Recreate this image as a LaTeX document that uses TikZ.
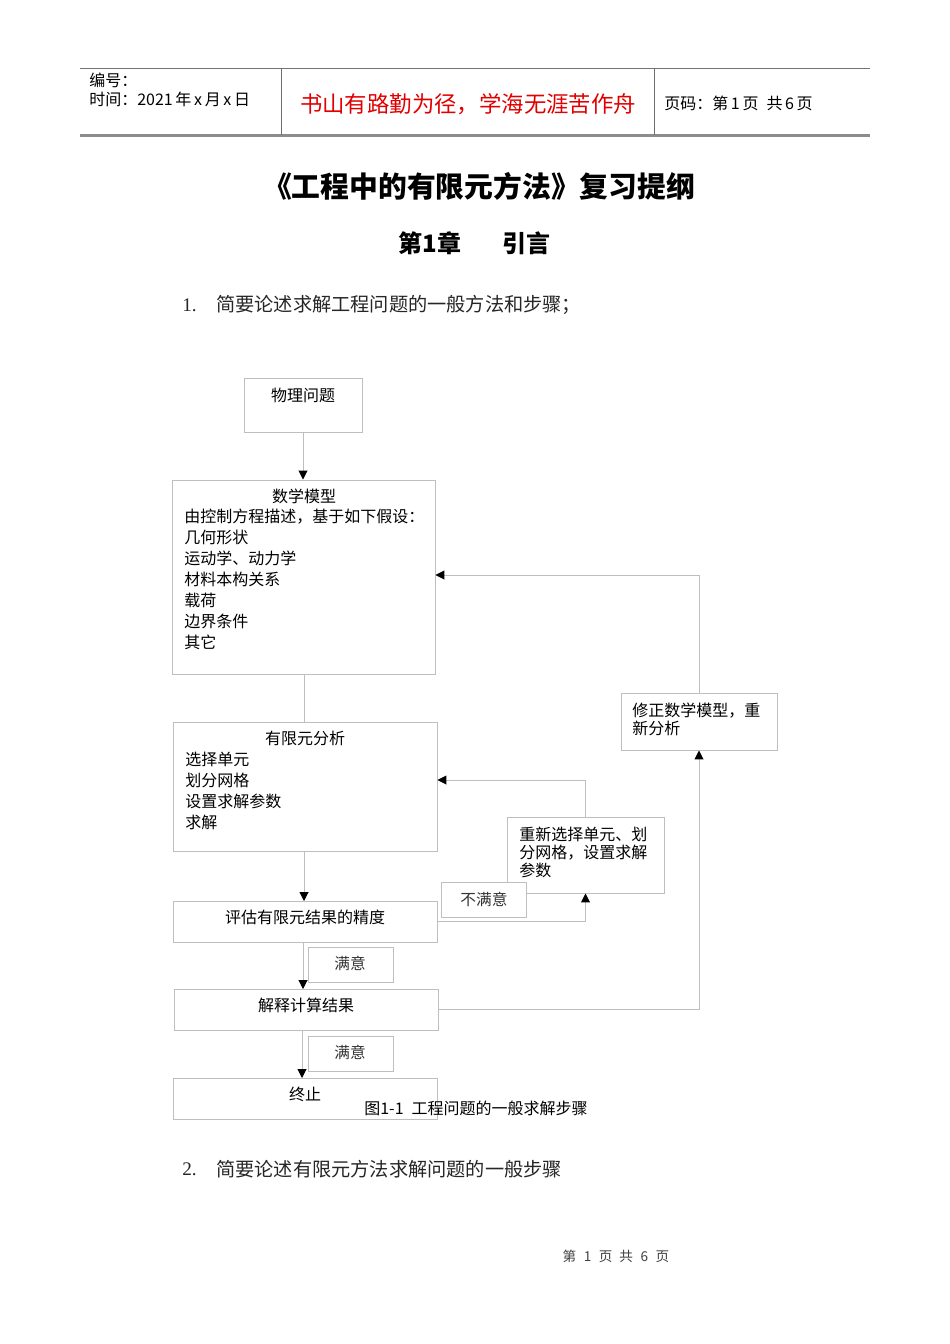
\documentclass[tikz,border=0pt]{standalone}
\usepackage{fontspec}
\setmainfont{Noto Sans CJK SC}
\newfontfamily\latserif{Liberation Serif}
\usetikzlibrary{arrows.meta,fit}
\definecolor{hdrred}{RGB}{225,0,0}
\definecolor{lgray}{RGB}{190,190,190}
\definecolor{hgray}{RGB}{110,110,110}
\newcommand\fsz[2]{\fontsize{#1}{#2}\selectfont}
\tikzset{
  box/.style={draw=lgray, line width=0.6pt, inner sep=0pt},
  conn/.style={draw=lgray, line width=0.6pt, -{Triangle[length=5.6pt,width=5.6pt,color=black]}},
  plainline/.style={draw=lgray, line width=0.6pt},
  ft/.style={font=\fsz{10}{13.1}, inner sep=0pt},
  fts/.style={font=\fsz{10}{11.25}, inner sep=0pt, align=left},
  lab/.style={font=\fsz{9.8}{12}, inner sep=0pt, text=black!80},
  hdr/.style={font=\fsz{10}{11}, inner sep=0pt},
  item/.style={font=\fsz{12}{15}, inner sep=0pt, text=black!85},
}
\begin{document}
\begin{tikzpicture}[x=0.625pt,y=-0.625pt]
\fill[white] (0,0) rectangle (950,1344);
\useasboundingbox (0,0) rectangle (950,1344);

% header
\draw[black!55, line width=0.6pt] (80,68) -- (870,68);
\draw[black!45, line width=1.3pt] (80,135.5) -- (870,135.5);
\draw[hgray, line width=0.6pt] (281,68) -- (281,135);
\draw[hgray, line width=0.6pt] (654,68) -- (654,135);
\node[hdr, anchor=west] (hno) at (89,80) {编号：};
\node[hdr, anchor=west] (htime) at (89,99) {时间：2021\,年\,x\,月\,x\,日};
\node[font=\fsz{14}{16}, inner sep=0pt, text=hdrred] (motto) at (468,104) {书山有路勤为径，学海无涯苦作舟};
\node[hdr, anchor=west] (hpage) at (664,103) {页码：第\,1\,页\enspace 共\,6\,页};

% titles
\node[font=\fsz{18}{21}\bfseries, inner sep=0pt] (title) at (479,186) {《工程中的有限元方法》复习提纲};
\node[font=\fsz{15}{18}\bfseries, inner sep=0pt] (chap) at (474.5,243) {第1章\hspace{26pt}引言};

\node[item, anchor=west] (n1) at (182,305) {\latserif 1.};
\node[item, anchor=west] (q1) at (216,305) {简要论述求解工程问题的一般方法和步骤；};
\node[item, anchor=west] (n2) at (182,1169) {\latserif 2.};
\node[item, anchor=west] (q2) at (216,1169) {简要论述有限元方法求解问题的一般步骤};

% boxes
\node[box, fit={(244,378) (362,432)}] (phys) {};
\node[box, fit={(172,480) (435,674)}] (math) {};
\node[box, fit={(173,722) (437,851)}] (fea) {};
\node[box, fit={(173,901) (437,942)}] (eval) {};
\node[box, fit={(174,989) (438,1030)}] (interp) {};
\node[box, fit={(173,1078) (437,1119)}] (stop) {};
\node[box, fit={(621,693) (777,750)}] (modify) {};
\node[box, fit={(507,817) (664,893)}] (regen) {};
\node[box, fill=white, fit={(441,882) (526,917)}] (unsat) {};
\node[box, fit={(308,947) (393,982)}] (sat1) {};
\node[box, fit={(308,1036) (393,1071)}] (sat2) {};

% box texts
\node[ft] (tphys) at (303,395) {物理问题};
\node[ft] (tmath) at (304,496) {数学模型};
\node[ft, anchor=north west, align=left] (lmath) at (184,508.5) {由控制方程描述，基于如下假设：\\几何形状\\运动学、动力学\\材料本构关系\\载荷\\边界条件\\其它};
\node[ft] (tfea) at (305,738) {有限元分析};
\node[ft, anchor=north west, align=left] (lfea) at (185,751.5) {选择单元\\划分网格\\设置求解参数\\求解};
\node[ft] (teval) at (305,917) {评估有限元结果的精度};
\node[ft] (tinterp) at (306,1005) {解释计算结果};
\node[ft] (tstop) at (305,1094) {终止};
\node[fts, anchor=north west] (tmod) at (632,702.5) {修正数学模型，重\\新分析};
\node[fts, anchor=north west] (treg) at (519,826.5) {重新选择单元、划\\分网格，设置求解\\参数};
\node[lab] (tunsat) at (484,899) {不满意};
\node[lab] (tsat1) at (350,963) {满意};
\node[lab] (tsat2) at (350,1052) {满意};
\node[ft, anchor=west] (cap) at (364,1108) {图1-1\enspace 工程问题的一般求解步骤};

% connectors
\draw[conn] (phys.south) -- (phys.south |- math.north);
\draw[plainline] (304,674) -- (304,722);
\draw[conn] (304,851) -- (304,901);
\draw[conn] (303,942) -- (303,989);
\draw[conn] (302,1030) -- (302,1078);
\draw[conn] (eval.east) -| (regen.south);
\draw[conn] (regen.north) |- (fea.east |- 0,780);
\draw[conn] (interp.east) -| (modify.south);
\draw[conn] (modify.north) |- (math.east |- 0,575);

% footer
\node[font=\fsz{8.5}{10}, inner sep=0pt, text=black!75] (foot) at (616,1256) {第\,\, 1\,\, 页\enspace 共\,\, 6\,\, 页};
\end{tikzpicture}
\end{document}
